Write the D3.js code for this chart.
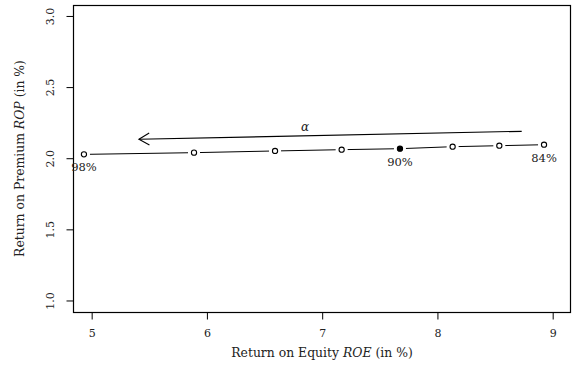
<!DOCTYPE html>
<html>
<head>
<meta charset="utf-8">
<script src="https://cdn.jsdelivr.net/npm/d3@7"></script>
<style>
  body { margin: 0; background: #fff; }
  svg text { font-family: "DejaVu Serif", serif !important; fill: #222; }
</style>
</head>
<body>
<svg id="chart" width="572" height="374"></svg>
<script>
// Data
const roe = [4.933, 5.888, 6.591, 7.169, 7.675, 8.132, 8.537, 8.925];
const rop = [2.027, 2.039, 2.051, 2.060, 2.067, 2.081, 2.088, 2.095];
const alphaPct = [98, 96, 94, 92, 90, 88, 86, 84];
const labelled = [98, 90, 84];
const highlight = 90;
const xTicks = [5, 6, 7, 8, 9];
const yTicks = [1.0, 1.5, 2.0, 2.5, 3.0];
const arrowFrom = [8.731, 2.189];
const arrowTo = [5.41, 2.133];
const alphaPos = [6.851, 2.219];

const svg = d3.select("#chart");
const box = { left: 73, right: 571, top: 5, bottom: 312 };

const x = d3.scaleLinear().domain([4.838, 9.159]).range([box.left, box.right]);
const y = d3.scaleLinear().domain([0.919, 3.077]).range([box.bottom, box.top]);

const points = roe.map((d, i) => ({ x: d, y: rop[i], a: alphaPct[i] }));

// plot frame
svg.append("rect")
  .attr("x", box.left + 0.5)
  .attr("y", box.top + 0.5)
  .attr("width", box.right - box.left - 1)
  .attr("height", box.bottom - box.top)
  .attr("fill", "none")
  .attr("stroke", "#000")
  .attr("stroke-width", 1.2);

// X axis
const xAxis = svg.append("g").attr("transform", `translate(0, ${box.bottom + 0.5})`);
xAxis.call(d3.axisBottom(x).tickValues(xTicks).tickSize(7).tickFormat(d3.format("d")));
xAxis.select(".domain").remove();
xAxis.attr("font-family", null).attr("font-size", null);
xAxis.selectAll("line").attr("stroke", "#000");
xAxis.selectAll("text")
  .attr("y", 17)
  .attr("font-size", 11);

// Y axis
const yAxis = svg.append("g").attr("transform", `translate(${box.left + 0.5}, 0)`);
yAxis.call(d3.axisLeft(y).tickValues(yTicks).tickSize(7).tickFormat(d3.format(".1f")));
yAxis.select(".domain").remove();
yAxis.attr("font-family", null).attr("font-size", null);
yAxis.selectAll("line").attr("stroke", "#000");
yAxis.selectAll("text").remove();
yAxis.selectAll(".tick")
  .append("text")
  .attr("transform", "translate(-20, 0) rotate(-90)")
  .attr("text-anchor", "middle")
  .attr("font-size", 11)
  .text(d => d3.format(".1f")(d));

// axis titles
const xTitle = svg.append("text")
  .attr("x", (box.left + box.right) / 2)
  .attr("y", 357)
  .attr("text-anchor", "middle")
  .attr("font-size", 12.4);
xTitle.append("tspan").text("Return on Equity ");
xTitle.append("tspan").attr("font-style", "italic").text("ROE");
xTitle.append("tspan").text(" (in %)");

const yTitle = svg.append("text")
  .attr("transform", `translate(24, ${(box.top + box.bottom) / 2}) rotate(-90)`)
  .attr("text-anchor", "middle")
  .attr("font-size", 12.4);
yTitle.append("tspan").text("Return on Premium ");
yTitle.append("tspan").attr("font-style", "italic").text("ROP");
yTitle.append("tspan").text(" (in %)");

// line segments between points, with a gap around each point
const gap = 6;
const segs = d3.pairs(points).map(([p, q]) => {
  const x1 = x(p.x), y1 = y(p.y), x2 = x(q.x), y2 = y(q.y);
  const len = Math.hypot(x2 - x1, y2 - y1);
  const ux = (x2 - x1) / len, uy = (y2 - y1) / len;
  return [x1 + ux * gap, y1 + uy * gap, x2 - ux * gap, y2 - uy * gap];
});
svg.append("g")
  .selectAll("line")
  .data(segs)
  .enter()
  .append("line")
  .attr("x1", d => d[0])
  .attr("y1", d => d[1])
  .attr("x2", d => d[2])
  .attr("y2", d => d[3])
  .attr("stroke", "#000")
  .attr("stroke-width", 1);

svg.append("g")
  .selectAll("circle")
  .data(points)
  .enter()
  .append("circle")
  .attr("cx", d => x(d.x))
  .attr("cy", d => y(d.y))
  .attr("r", 2.6)
  .attr("fill", d => (d.a === highlight ? "#000" : "#fff"))
  .attr("stroke", "#000")
  .attr("stroke-width", 1.1);

// percentage labels below selected points
svg.append("g")
  .selectAll("text")
  .data(points.filter(d => labelled.includes(d.a)))
  .enter()
  .append("text")
  .attr("x", d => x(d.x))
  .attr("y", d => y(d.y) + 17)
  .attr("text-anchor", "middle")
  .attr("font-size", 11.5)
  .text(d => d.a + "%");

// arrow for alpha direction
const ax1 = x(arrowFrom[0]), ay1 = y(arrowFrom[1]);
const ax2 = x(arrowTo[0]), ay2 = y(arrowTo[1]);
svg.append("line")
  .attr("x1", ax1).attr("y1", ay1)
  .attr("x2", ax2).attr("y2", ay2)
  .attr("stroke", "#000")
  .attr("stroke-width", 1.1);
const ang = Math.atan2(ay1 - ay2, ax1 - ax2);
const headLen = 12, spread = Math.PI / 6;
const head = [ang - spread, ang + spread].map(a => [ax2 + headLen * Math.cos(a), ay2 + headLen * Math.sin(a)]);
svg.append("path")
  .attr("d", `M${head[0][0]},${head[0][1]}L${ax2},${ay2}L${head[1][0]},${head[1][1]}`)
  .attr("fill", "none")
  .attr("stroke", "#000")
  .attr("stroke-width", 1.1);

svg.append("text")
  .attr("x", x(alphaPos[0]))
  .attr("y", y(alphaPos[1]))
  .attr("dy", "0.35em")
  .attr("text-anchor", "middle")
  .attr("font-size", 12)
  .attr("font-style", "italic")
  .text("α");
</script>
</body>
</html>
